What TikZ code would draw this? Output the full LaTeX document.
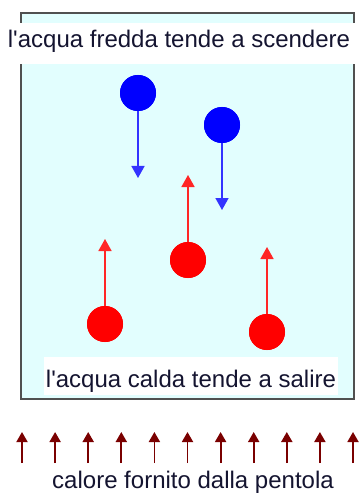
\documentclass[tikz,border=0pt]{standalone}
\usepackage{fontspec}
\setmainfont{Liberation Sans}
\usepackage{tikz}
\usetikzlibrary{arrows.meta,positioning}
\definecolor{ink}{HTML}{141430}
\definecolor{rim}{HTML}{505050}
\definecolor{water}{HTML}{E2FEFE}
\definecolor{cold}{HTML}{0000FF}
\definecolor{hot}{HTML}{FF0000}
\definecolor{heat}{HTML}{7A0000}
\tikzset{
  vessel/.style={draw=rim, line width=2pt, fill=water, inner sep=0pt, minimum width=333pt, minimum height=386pt},
  caption/.style={fill=white, text=ink, inner sep=0pt, font=\fontsize{24}{28}\selectfont, anchor=base},
  colddrop/.style={circle, fill=cold, inner sep=0pt, minimum size=36pt},
  hotdrop/.style={circle, fill=hot, inner sep=0pt, minimum size=36pt},
  coldarrow/.style={-{Triangle[length=12pt,width=13pt]}, line width=1.6pt, draw=cold!80!white, fill=cold},
  hotarrow/.style={-{Triangle[length=12pt,width=13pt]}, line width=1.6pt, draw=hot!85!white, fill=hot},
  heatarrow/.style={-{Triangle[length=10pt,width=11pt]}, line width=1.8pt, draw=heat}
}
\begin{document}
\begin{tikzpicture}[x=1pt,y=-1pt]
\useasboundingbox (0,0) rectangle (358,494);
\node[vessel] (pot) at (187.5,206) {};
\node[caption, minimum width=358pt, text height=25pt, text depth=16pt] (top) at (179,48) {l\textquotesingle acqua fredda tende a scendere};
\node[caption, minimum width=294pt, text height=30pt, text depth=8pt] (bottom) at (191,387) {l\textquotesingle acqua calda tende a salire};
\node[colddrop] (c1) at (138,93) {};
\node[colddrop] (c2) at (222,125) {};
\node[hotdrop] (h1) at (105,324) {};
\node[hotdrop] (h2) at (188,260) {};
\node[hotdrop] (h3) at (267,332) {};
\coordinate (c1end) at (138,178);
\coordinate (c2end) at (222,210);
\coordinate (h1end) at (105,239);
\coordinate (h2end) at (188,175);
\coordinate (h3end) at (267,247);
\draw[coldarrow] (c1.center) -- (c1end);
\draw[coldarrow] (c2.center) -- (c2end);
\draw[hotarrow] (h1.center) -- (h1end);
\draw[hotarrow] (h2.center) -- (h2end);
\draw[hotarrow] (h3.center) -- (h3end);
\node[colddrop] at (c1) {};
\node[colddrop] at (c2) {};
\node[hotdrop] at (h1) {};
\node[hotdrop] at (h2) {};
\node[hotdrop] at (h3) {};
\foreach \i in {0,...,10}{
  \coordinate (f\i) at (22+33.1*\i,463);
  \coordinate (t\i) at (22+33.1*\i,432);
  \draw[heatarrow] (f\i) -- (t\i);
}
\node[caption] (flame) at (193,488) {calore fornito dalla pentola};
\end{tikzpicture}
\end{document}
